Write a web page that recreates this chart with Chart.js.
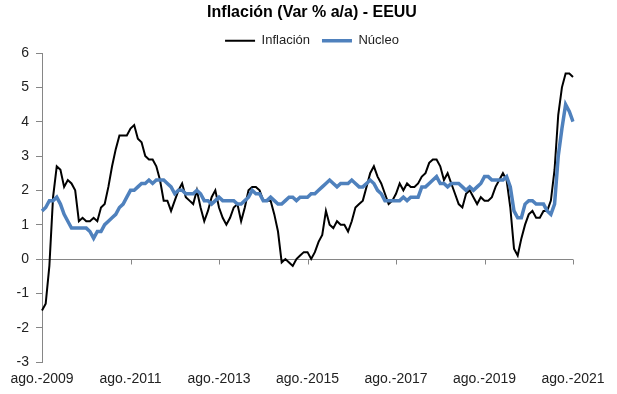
<!DOCTYPE html>
<html>
<head>
<meta charset="utf-8">
<script src="https://cdn.jsdelivr.net/npm/chart.js@4"></script>
<style>
  html, body { margin: 0; padding: 0; background: #ffffff; }
  #wrap { width: 617px; height: 394px; position: relative; }
</style>
</head>
<body>
<div id="wrap"><canvas id="c" width="617" height="394"></canvas></div>
<script>
// Month names (Spanish) and years used to build the monthly categories ago.-2009 .. ago.-2021
const monthNames = ['ene.', 'feb.', 'mar.', 'abr.', 'may.', 'jun.', 'jul.', 'ago.', 'sept.', 'oct.', 'nov.', 'dic.'];
const startYear = 2009, startMonth = 7;   // ago.-2009
const nMonths = 145;                      // through ago.-2021
const categories = [];
for (let i = 0; i < nMonths; i++) {
  const m = (startMonth + i) % 12;
  const y = startYear + Math.floor((startMonth + i) / 12);
  categories.push(monthNames[m] + '-' + y);
}

// Headline CPI, YoY %
const inflacion = [
  -1.5, -1.3, -0.2, 1.8, 2.7,
  2.6, 2.1, 2.3, 2.2, 2.0, 1.1, 1.2, 1.1, 1.1, 1.2, 1.1, 1.5,
  1.6, 2.1, 2.7, 3.2, 3.6, 3.6, 3.6, 3.8, 3.9, 3.5, 3.4, 3.0,
  2.9, 2.9, 2.7, 2.3, 1.7, 1.7, 1.4, 1.7, 2.0, 2.2, 1.8, 1.7,
  1.6, 2.0, 1.5, 1.1, 1.4, 1.8, 2.0, 1.5, 1.2, 1.0, 1.2, 1.5,
  1.6, 1.1, 1.5, 2.0, 2.1, 2.1, 2.0, 1.7, 1.7, 1.7, 1.3, 0.8,
  -0.1, 0.0, -0.1, -0.2, 0.0, 0.1, 0.2, 0.2, 0.0, 0.2, 0.5, 0.7,
  1.4, 1.0, 0.9, 1.1, 1.0, 1.0, 0.8, 1.1, 1.5, 1.6, 1.7, 2.1,
  2.5, 2.7, 2.4, 2.2, 1.9, 1.6, 1.7, 1.9, 2.2, 2.0, 2.2, 2.1,
  2.1, 2.2, 2.4, 2.5, 2.8, 2.9, 2.9, 2.7, 2.3, 2.5, 2.2, 1.9,
  1.6, 1.5, 1.9, 2.0, 1.8, 1.6, 1.8, 1.7, 1.7, 1.8, 2.1, 2.3,
  2.5, 2.3, 1.5, 0.3, 0.1, 0.6, 1.0, 1.3, 1.4, 1.2, 1.2, 1.4,
  1.4, 1.7, 2.6, 4.2, 5.0, 5.4, 5.4, 5.3
];

// Core CPI, YoY %
const nucleo = [
  1.4, 1.5, 1.7, 1.7, 1.8,
  1.6, 1.3, 1.1, 0.9, 0.9, 0.9, 0.9, 0.9, 0.8, 0.6, 0.8, 0.8,
  1.0, 1.1, 1.2, 1.3, 1.5, 1.6, 1.8, 2.0, 2.0, 2.1, 2.2, 2.2,
  2.3, 2.2, 2.3, 2.3, 2.3, 2.2, 2.1, 1.9, 2.0, 2.0, 1.9, 1.9,
  1.9, 2.0, 1.9, 1.7, 1.7, 1.6, 1.7, 1.8, 1.7, 1.7, 1.7, 1.7,
  1.6, 1.6, 1.7, 1.8, 2.0, 1.9, 1.9, 1.7, 1.7, 1.8, 1.7, 1.6,
  1.6, 1.7, 1.8, 1.8, 1.7, 1.8, 1.8, 1.8, 1.9, 1.9, 2.0, 2.1,
  2.2, 2.3, 2.2, 2.1, 2.2, 2.2, 2.2, 2.3, 2.2, 2.1, 2.1, 2.2,
  2.3, 2.2, 2.0, 1.9, 1.7, 1.7, 1.7, 1.7, 1.7, 1.8, 1.7, 1.8,
  1.8, 1.8, 2.1, 2.1, 2.2, 2.3, 2.4, 2.2, 2.2, 2.1, 2.2, 2.2,
  2.2, 2.1, 2.0, 2.1, 2.0, 2.1, 2.2, 2.4, 2.4, 2.3, 2.3, 2.3,
  2.3, 2.4, 2.1, 1.4, 1.2, 1.2, 1.6, 1.7, 1.7, 1.6, 1.6, 1.6,
  1.4, 1.3, 1.6, 3.0, 3.8, 4.5, 4.3, 4.0
];

const yTicks = [-3, -2, -1, 0, 1, 2, 3, 4, 5, 6];
const labelEvery = 24;

const AXIS = '#868686';
const FONT = "'Liberation Sans', Arial, sans-serif";

const zeroAxisPlugin = {
  id: 'zeroAxis',
  beforeDatasetsDraw(chart) {
    const {ctx, chartArea, scales} = chart;
    const y0 = Math.round(scales.y.getPixelForValue(0)) + 0.5;
    ctx.save();
    ctx.strokeStyle = AXIS;
    ctx.lineWidth = 1;
    ctx.beginPath();
    ctx.moveTo(chartArea.left, y0);
    ctx.lineTo(chartArea.right, y0);
    for (let i = 0; i < categories.length; i += labelEvery) {
      const x = Math.round(scales.x.getPixelForValue(i)) + 0.5;
      ctx.moveTo(x, y0);
      ctx.lineTo(x, y0 + 5);
    }
    ctx.stroke();
    ctx.restore();
  }
};

new Chart(document.getElementById('c'), {
  type: 'line',
  data: {
    labels: categories,
    datasets: [
      {
        label: 'Inflación',
        data: inflacion,
        borderColor: '#000000',
        backgroundColor: '#000000',
        borderWidth: 2,
        pointRadius: 0,
        tension: 0,
        order: 1
      },
      {
        label: 'Núcleo',
        data: nucleo,
        borderColor: '#4F81BD',
        backgroundColor: '#4F81BD',
        borderWidth: 3.5,
        pointRadius: 0,
        tension: 0,
        order: 0
      }
    ]
  },
  options: {
    responsive: false,
    animation: false,
    devicePixelRatio: 1,
    layout: { padding: { left: 7, right: 0, top: 0, bottom: 0 } },
    plugins: {
      title: {
        display: true,
        text: 'Inflación (Var % a/a) - EEUU',
        color: '#000',
        font: { family: FONT, size: 16, weight: 'bold' },
        padding: { top: 3, bottom: 0 }
      },
      legend: {
        display: true,
        position: 'top',
        maxHeight: 30.8,
        labels: {
          usePointStyle: true,
          pointStyle: 'line',
          pointStyleWidth: 30,
          padding: 12,
          color: '#222',
          font: { family: FONT, size: 13 },
          sort: (a, b) => a.datasetIndex - b.datasetIndex
        }
      },
      tooltip: { enabled: false }
    },
    scales: {
      x: {
        type: 'category',
        grid: { display: false, drawTicks: false },
        border: { display: false },
        ticks: {
          autoSkip: false,
          maxRotation: 0,
          minRotation: 0,
          padding: 9,
          color: '#222',
          font: { family: FONT, size: 14 },
          callback: function (val, idx) {
            return idx % labelEvery === 0 ? categories[idx] : null;
          }
        },
        afterFit: (s) => { s.height = 32; }
      },
      y: {
        min: -3,
        max: 6,
        afterBuildTicks: (s) => { s.ticks = yTicks.map(v => ({ value: v })); },
        grid: { drawOnChartArea: false, drawTicks: true, tickLength: 6, color: AXIS },
        border: { display: true, color: AXIS, width: 1 },
        ticks: {
          padding: 7,
          color: '#222',
          font: { family: FONT, size: 14 }
        },
        afterFit: (s) => { s.width = 35; }
      },
      yr: {
        position: 'right',
        display: true,
        grid: { display: false, drawTicks: false },
        border: { display: false },
        ticks: { display: false },
        afterFit: (s) => { s.width = 44; }
      }
    }
  },
  plugins: [zeroAxisPlugin]
});
</script>
</body>
</html>
